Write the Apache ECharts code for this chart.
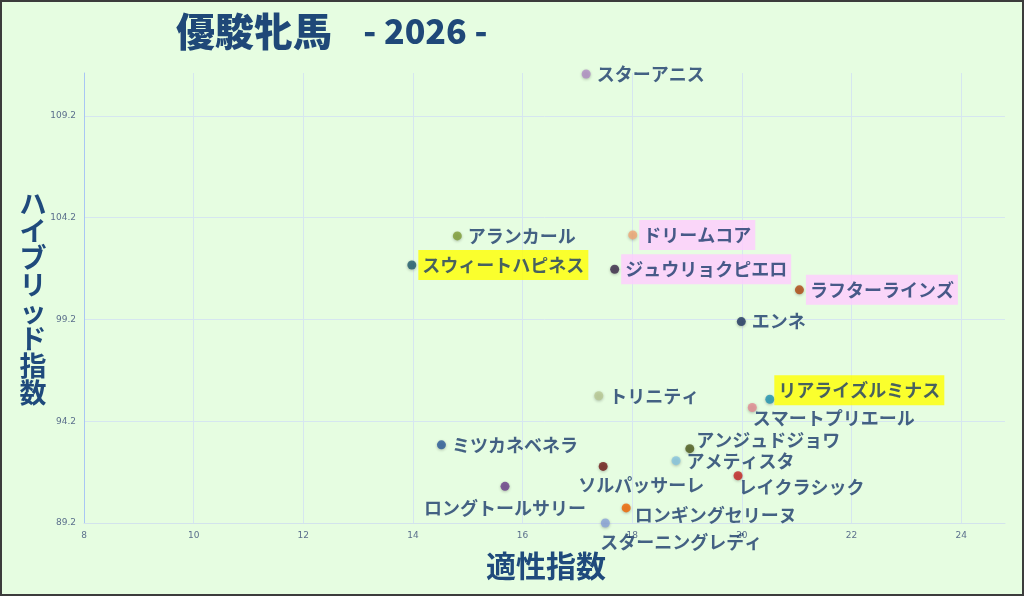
<!DOCTYPE html>
<html><head><meta charset="utf-8">
<script src="https://cdn.jsdelivr.net/npm/echarts@6/dist/echarts.min.js"></script>
<style>html,body{margin:0;padding:0;background:#e6fde1;}#c{width:1024px;height:596px;}</style>
</head><body><div id="c"></div>
<script>
// ---- data ----
const horseNames = ['スターアニス','アランカール','スウィートハピネス','ドリームコア','ジュウリョクピエロ','ラフターラインズ','エンネ','リアライズルミナス','スマートプリエール','トリニティ','アンジュドジョワ','アメティスタ','レイクラシック','ソルパッサーレ','ロンギングセリーヌ','スターニングレディ','ミツカネベネラ','ロングトールサリー'];
const tekiseiIndex = [17.16,14.81,13.98,18.01,17.68,21.05,19.99,20.51,20.19,17.39,19.05,18.80,19.93,17.47,17.89,17.51,14.52,15.68];
const hybridIndex  = [111.25,103.30,101.87,103.35,101.66,100.65,99.09,95.28,94.87,95.45,92.85,92.26,91.52,91.98,89.94,89.20,93.04,91.00];
const xTickMin = 8, xTickMax = 24.8, xTickStep = 2;
const yTickMin = 89.2, yTickMax = 111.3, yTickStep = 5;
const titleMain = '優駿牝馬', titleSub = '- 2026 -';
const xName = '適性指数', yName = 'ハイブリッド指数';
const yellowNames = ['スウィートハピネス','リアライズルミナス'];
const pinkNames = ['ドリームコア','ジュウリョクピエロ','ラフターラインズ'];

// ---- styles ----
const pointColors = ['#b08cc4','#7e9c34','#1f5a6c','#f2a674','#3a2848','#b04810','#1f3660','#1f92b2','#e48a92','#b9c994','#4c5a1c','#86c4e0','#c42222','#6e1616','#f26400','#8aa2da','#2a5a98','#6a3c8a'];
const labelPlace = {
  'スマートプリエール': {position:'right', distance:0, offset:[-4,11]},
  'アンジュドジョワ': {position:'right', distance:2, offset:[0,-9]},
  'レイクラシック': {position:'right', distance:0, offset:[-4,11]},
  'ソルパッサーレ': {position:'bottom', distance:4, offset:[38,0]},
  'ロングトールサリー': {position:'bottom', distance:4, offset:[0,3]},
  'ロンギングセリーヌ': {position:'right', distance:4, offset:[0,7]},
  'スターニングレディ': {position:'bottom', distance:4, offset:[76,1]},
  'リアライズルミナス': {position:'right', distance:0, offset:[0,-9]}
};
const textColor = '#1a3a6c';

const data = horseNames.map((n,i)=>{
  const lab = {show:true, position:'right', distance:6, formatter:n};
  const hl = yellowNames.includes(n) ? '#ffff00' : (pinkNames.includes(n) ? '#ffccff' : null);
  if (hl) { lab.backgroundColor = hl; lab.padding = [5,4,5,4]; lab.distance = 2; }
  if (labelPlace[n]) Object.assign(lab, labelPlace[n]);
  return {name:n, value:[tekiseiIndex[i], hybridIndex[i]], itemStyle:{color:pointColors[i]}, label:lab};
});

const chart = echarts.init(document.getElementById('c'));
chart.setOption({
  backgroundColor:'#e6fde1',
  animation:false,
  grid:{left:84, right:19, top:73, bottom:73},
  xAxis:{type:'value', min:xTickMin, max:xTickMax, interval:xTickStep,
    axisLine:{show:true, lineStyle:{color:'#d3e3ec', width:1}},
    axisTick:{show:false},
    axisLabel:{fontSize:9, color:'#5b6f8c', margin:8, showMaxLabel:false, fontFamily:'DejaVu Sans'},
    splitLine:{show:true, showMinLine:false, showMaxLine:false, lineStyle:{color:'#d6e6f0'}}},
  yAxis:{type:'value', min:yTickMin, max:yTickMax, interval:yTickStep,
    axisLine:{show:true, lineStyle:{color:'#a9c6f4', width:1}},
    axisTick:{show:false},
    axisLabel:{fontSize:9, color:'#5b6f8c', margin:8, showMaxLabel:false, fontFamily:'DejaVu Sans',
      formatter:v=>v.toFixed(1)},
    splitLine:{show:true, showMinLine:false, showMaxLine:false, lineStyle:{color:'#d6e6f0'}}},
  series:[{type:'scatter', symbolSize:9, clip:false, data:data,
    itemStyle:{shadowBlur:3, shadowColor:'rgba(0,0,0,0.3)', shadowOffsetY:1},
    label:{fontFamily:'Noto Sans CJK JP', fontWeight:'bold', fontSize:18, color:textColor, lineHeight:20}}],
  graphic:[
    {type:'text', left:176, top:12, style:{
      text:'{a|'+titleMain+'}{b|    '+titleSub+'}',
      rich:{a:{fontFamily:'Noto Sans CJK JP', fontWeight:900, fontSize:39, fill:'#1f4878'},
            b:{fontFamily:'Noto Sans CJK JP', fontWeight:900, fontSize:34, fill:'#1f4878'}}}},
    {type:'text', x:546, y:566, style:{text:xName, fontFamily:'Noto Sans CJK JP', fontWeight:'bold', fontSize:30, fill:'#1f4a7c', align:'center', verticalAlign:'middle'}},
    {type:'text', x:33, y:298, style:{text:yName.split('').join('\n'), fontFamily:'Noto Sans CJK JP', fontWeight:'bold', fontSize:27, lineHeight:27, fill:'#1f4a7c', align:'center', verticalAlign:'middle'}},
    {type:'rect', shape:{x:1, y:1, width:1022, height:594}, style:{fill:'none', stroke:'#3c3c3c', lineWidth:2}, z:100}
  ]
});
</script></body></html>
